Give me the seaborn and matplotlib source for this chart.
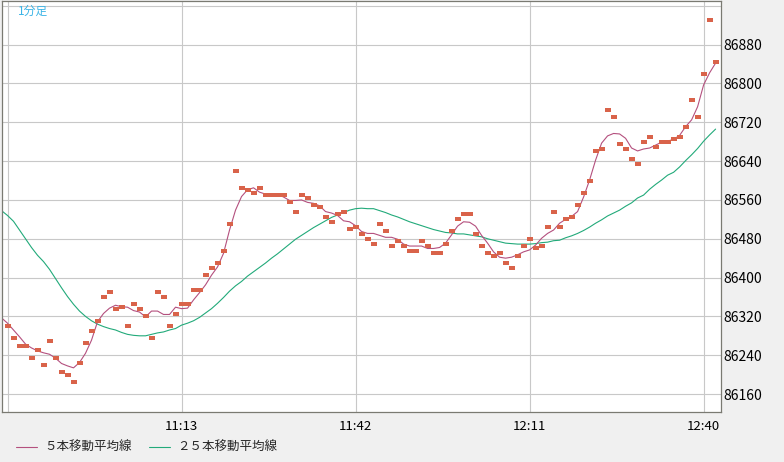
#!/usr/bin/env python

import numpy as np
import pandas as pd
import matplotlib
matplotlib.use("Agg")
import matplotlib.pyplot as plt
import seaborn as sns


# 1-minute closes, one per minute starting at CLOSE_START
CLOSE_START = "10:44"
CLOSE = [
    86300, 86275, 86260, 86260, 86235, 86250, 86220, 86270, 86235, 86205,
    86200, 86185, 86225, 86265, 86290, 86310, 86360, 86370, 86335, 86340,
    86300, 86345, 86335, 86320, 86275, 86370, 86360, 86300, 86325, 86345,
    86345, 86375, 86375, 86405, 86420, 86430, 86455, 86510, 86620, 86585,
    86580, 86575, 86585, 86570, 86570, 86570, 86570, 86555, 86535, 86570,
    86565, 86550, 86545, 86525, 86515, 86530, 86535, 86500, 86505, 86490,
    86480, 86470, 86510, 86495, 86465, 86475, 86465, 86455, 86455, 86475,
    86465, 86450, 86450, 86470, 86495, 86520, 86530, 86530, 86490, 86465,
    86450, 86445, 86450, 86430, 86420, 86445, 86465, 86480, 86460, 86465,
    86505, 86535, 86505, 86520, 86525, 86550, 86575, 86600, 86660, 86665,
    86745, 86730, 86675, 86665, 86645, 86635, 86680, 86690, 86670, 86680,
    86680, 86685, 86690, 86710, 86765, 86730, 86820, 86930, 86845,
]

# moving averages, one per minute starting at MA_START
MA_START = "10:43"
MA5 = [
    86317, 86306, 86292, 86278, 86263, 86255, 86249, 86245, 86242, 86234,
    86223, 86218, 86214, 86225, 86244, 86271, 86309, 86326, 86337, 86343,
    86340, 86339, 86332, 86329, 86319, 86331, 86331, 86324, 86324, 86339,
    86336, 86337, 86354, 86369, 86385, 86405, 86422, 86450, 86498, 86539,
    86567, 86581, 86585, 86576, 86572, 86572, 86572, 86566, 86559, 86559,
    86560, 86555, 86553, 86548, 86536, 86533, 86528, 86517, 86515, 86507,
    86495, 86491, 86491, 86487, 86483, 86483, 86479, 86469, 86465, 86465,
    86465, 86460, 86460, 86462, 86471, 86488, 86506, 86515, 86514, 86506,
    86487, 86471, 86453, 86442, 86440, 86442, 86447, 86453, 86457, 86467,
    86481, 86491, 86498, 86512, 86520, 86526, 86536, 86566, 86601, 86642,
    86677, 86692, 86697, 86696, 86687, 86667, 86661, 86665, 86667, 86673,
    86679, 86681, 86685, 86693, 86711, 86725, 86752, 86797, 86822, 86842,
]
MA25 = [
    86538, 86528, 86516, 86498, 86480, 86462, 86446, 86433, 86417, 86398,
    86379, 86361, 86345, 86331, 86320, 86311, 86304, 86299, 86295, 86292,
    86287, 86283, 86281, 86280, 86280, 86283, 86286, 86288, 86292, 86295,
    86302, 86306, 86311, 86318, 86327, 86336, 86347, 86359, 86372, 86383,
    86392, 86403, 86412, 86421, 86430, 86440, 86449, 86459, 86469, 86479,
    86487, 86495, 86503, 86510, 86517, 86524, 86529, 86534, 86539, 86542,
    86543, 86542, 86542, 86538, 86534, 86529, 86525, 86520, 86515, 86511,
    86507, 86503, 86499, 86496, 86493, 86492, 86490, 86490, 86488, 86486,
    86484, 86480, 86477, 86474, 86471, 86470, 86469, 86469, 86469, 86470,
    86472, 86473, 86476, 86477, 86482, 86486, 86491, 86497, 86504, 86512,
    86519, 86527, 86533, 86539, 86547, 86554, 86564, 86570, 86582, 86592,
    86601, 86611, 86617, 86628, 86641, 86653, 86666, 86681, 86694, 86706,
]

GRID_TIMES = ("10:44", "11:13", "11:42", "12:11", "12:40")
GRID_LABELS = ("", "11:13", "11:42", "12:11", "12:40")
PRICE_TICKS = (86160, 86240, 86320, 86400, 86480, 86560, 86640, 86720, 86800, 86880, 86960)
PRICE_LABELS = ("86160", "86240", "86320", "86400", "86480", "86560", "86640", "86720", "86800", "86880", "")

TITLE = "1分足"
LEGEND_LABELS = ("５本移動平均線", "２５本移動平均線")

C_CLOSE = "#D9634A"
C_MA5 = "#B4507E"
C_MA25 = "#22AA7A"


def to_minutes(hhmm):
    h, m = hhmm.split(":")
    return int(h) * 60 + int(m)


def minute_frame(start, **cols):
    n = len(next(iter(cols.values())))
    df = pd.DataFrame(cols)
    df["t"] = to_minutes(start) + np.arange(n)
    return df


if __name__ == "__main__":
    sns.set_theme(style="white")
    plt.rcParams["font.family"] = ["Noto Sans CJK JP", "DejaVu Sans"]

    ma_df = minute_frame(MA_START, ma5=MA5, ma25=MA25)
    close_df = minute_frame(CLOSE_START, close=CLOSE)

    fig = plt.figure(figsize=(7.84, 4.62), dpi=100, facecolor="#F0F0F0")
    ax = fig.add_axes([1.5 / 784, 50 / 462, 719.5 / 784, 411.5 / 462])
    ax.set_facecolor("white")

    sns.lineplot(data=ma_df, x="t", y="ma25", color=C_MA25, lw=0.8, ax=ax, label=LEGEND_LABELS[1])
    sns.lineplot(data=ma_df, x="t", y="ma5", color=C_MA5, lw=0.8, ax=ax, label=LEGEND_LABELS[0])

    # little horizontal bars for the closes
    rect = [(-1, -0.6), (1, -0.6), (1, 0.6), (-1, 0.6), (-1, -0.6)]
    sns.scatterplot(data=close_df, x="t", y="close", marker=rect, s=16, color=C_CLOSE,
                    linewidth=0, ax=ax, zorder=5, legend=False)

    ax.set_xlim(to_minutes(MA_START), to_minutes(MA_START) + 119.9)
    ax.set_ylim(86123, 86971)

    ax.set_xticks([to_minutes(t) for t in GRID_TIMES], labels=GRID_LABELS)
    ax.set_yticks(PRICE_TICKS, labels=PRICE_LABELS)
    ax.yaxis.tick_right()
    ax.tick_params(axis="x", length=0, pad=6, labelsize=9.5, labelcolor="black")
    ax.tick_params(axis="y", length=0, pad=2, labelsize=10, labelcolor="black")
    ax.set_xlabel("")
    ax.set_ylabel("")
    ax.grid(True, color="#C8C8C8", linewidth=0.8)
    ax.set_axisbelow(True)
    for sp in ax.spines.values():
        sp.set_color("#7A7A72")
        sp.set_linewidth(0.9)

    ax.text(16 / 719.5, 1 - 10.5 / 411.5, TITLE, transform=ax.transAxes, color="#3BB4E6",
            fontsize=8.5, ha="left", va="center")

    handles, labels = ax.get_legend_handles_labels()
    ax.get_legend().remove()
    order = [labels.index(LEGEND_LABELS[0]), labels.index(LEGEND_LABELS[1])]
    fig.legend([handles[i] for i in order], [labels[i] for i in order],
               loc="center left", bbox_to_anchor=(16 / 784, 1 - 447.5 / 462), ncol=2,
               frameon=False, fontsize=9, handlelength=1.7, handletextpad=0.6,
               columnspacing=1.3, borderpad=0, borderaxespad=0)

    fig.savefig("out.png", dpi=100, facecolor=fig.get_facecolor())
    plt.close()
